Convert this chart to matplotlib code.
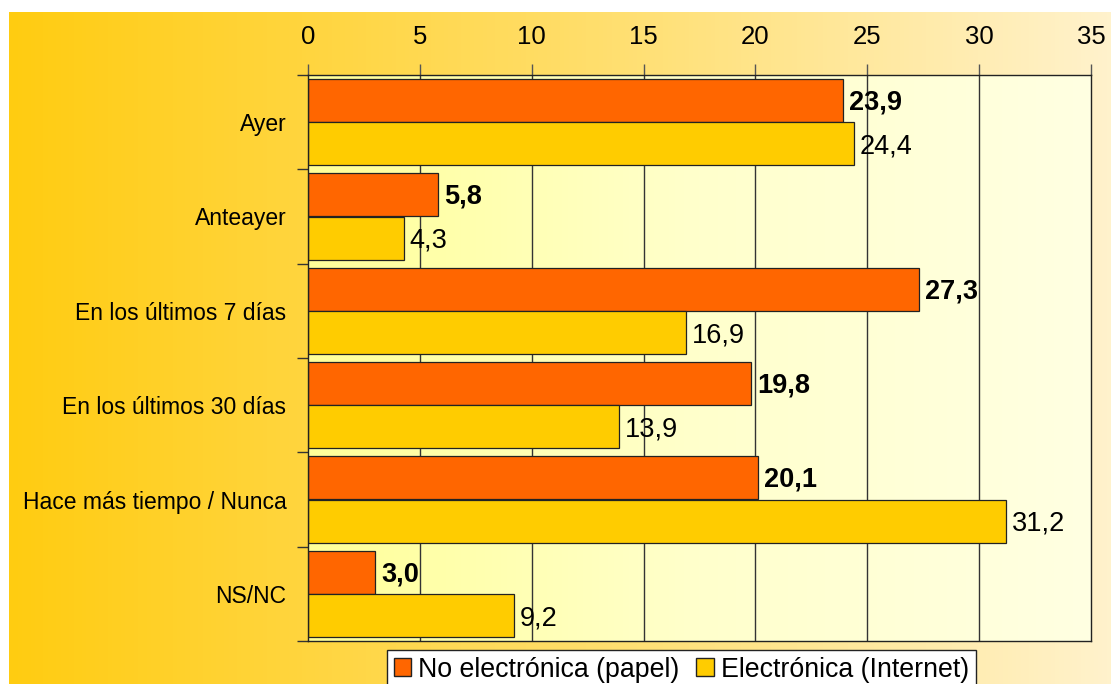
import numpy as np
import matplotlib.pyplot as plt
from matplotlib.colors import LinearSegmentedColormap
from matplotlib.patches import Patch

plt.rcParams['font.family'] = ['Liberation Sans', 'DejaVu Sans']

categorias = ['Ayer', 'Anteayer', 'En los últimos 7 días', 'En los últimos 30 días',
              'Hace más tiempo / Nunca', 'NS/NC']
papel = [23.9, 5.8, 27.3, 19.8, 20.1, 3.0]
internet = [24.4, 4.3, 16.9, 13.9, 31.2, 9.2]
series = ['No electrónica (papel)', 'Electrónica (Internet)']

c_papel = '#FF6600'
c_internet = '#FFCC00'

fig = plt.figure(figsize=(11.11, 6.84), dpi=100)

# outer gradient panel
bg = fig.add_axes([9 / 1111, 0, 1 - 9 / 1111, 1 - 12 / 684], zorder=-10)
cmap_out = LinearSegmentedColormap.from_list('out', ['#FFCC11', '#FFDD66', '#FFF2CC'])
bg.imshow(np.linspace(0, 1, 256)[None, :], aspect='auto', cmap=cmap_out, extent=[0, 1, 0, 1])
bg.set_axis_off()

ax = fig.add_axes([308 / 1111, 1 - 641 / 684, (1091 - 308) / 1111, (641 - 75) / 684])
ax.set_xlim(0, 35)
ax.set_ylim(len(categorias), 0)

# inner plot-area gradient
cmap_in = LinearSegmentedColormap.from_list('inn', ['#FFFF99', '#FFFFCC', '#FFFFE2'])
ax.imshow(np.linspace(0, 1, 256)[None, :], aspect='auto', cmap=cmap_in,
          extent=[0, 35, len(categorias), 0], zorder=0)

for x in range(5, 35, 5):
    ax.axvline(x, color='#333333', lw=1.0, zorder=1)

y = np.arange(len(categorias))
h = 0.455
ax.barh(y + 0.5 - h / 2 - 0.003, papel, height=h, color=c_papel, edgecolor='#222222',
        lw=0.9, zorder=2)
ax.barh(y + 0.5 + h / 2 + 0.003, internet, height=h, color=c_internet, edgecolor='#222222',
        lw=0.9, zorder=2)

for i in range(len(categorias)):
    ax.text(papel[i] + 0.28, y[i] + 0.5 - h / 2 + 0.02, f'{papel[i]:.1f}'.replace('.', ','),
            va='center', ha='left', fontsize=19.5, fontweight='bold', zorder=3)
    ax.text(internet[i] + 0.25, y[i] + 0.5 + h / 2 + 0.03, f'{internet[i]:.1f}'.replace('.', ','),
            va='center', ha='left', fontsize=19.5, zorder=3)

# x axis on top
ax.xaxis.tick_top()
ax.set_xticks(range(0, 36, 5))
ax.tick_params(axis='x', length=8, width=1, color='#555555', labelsize=18.5, pad=11)

ax.set_yticks(y + 0.5)
ax.set_yticklabels(categorias, fontsize=16.5)
ax.set_yticks(np.arange(len(categorias) + 1), minor=True)
ax.tick_params(axis='y', which='major', length=0, pad=15.5)
ax.tick_params(axis='y', which='minor', length=8, width=1, color='#333333')

for s in ax.spines.values():
    s.set_color('#222222')
    s.set_linewidth(1.0)

handles = [Patch(facecolor=c_papel, edgecolor='#222222', label=series[0]),
           Patch(facecolor=c_internet, edgecolor='#222222', label=series[1])]
fig.legend(handles=handles, loc='upper left', bbox_to_anchor=(387 / 1111, 1 - 650 / 684),
           ncol=2, fontsize=19.3, frameon=True, fancybox=False, edgecolor='#222222',
           framealpha=1, handlelength=0.65, handleheight=0.65, handletextpad=0.27,
           columnspacing=0.62, borderpad=0.25, borderaxespad=0)

fig.savefig('out.png', dpi=100)
